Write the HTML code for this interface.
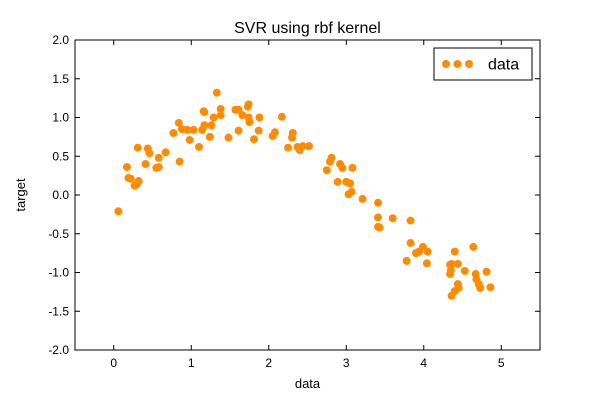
<!DOCTYPE html>
<html><head><meta charset="utf-8"><style>
body{margin:0;background:#fff;}
svg{font-family:"Liberation Sans","DejaVu Sans",sans-serif;}
</style></head><body>
<svg id="chart" width="600" height="400">
<rect width="600" height="400" fill="#fff"/>
<text x="307.5" y="33" font-size="16" text-anchor="middle">SVR using rbf kernel</text>
<g id="axes"></g>
<g id="points"></g>
<rect x="75" y="40" width="465" height="310" fill="none" stroke="#000" stroke-width="1"/>
<text x="307.5" y="388" font-size="13" text-anchor="middle">data</text>
<text x="25" y="195" font-size="13" text-anchor="middle" transform="rotate(-90 25 195)">target</text>
<g>
<rect x="434" y="48" width="98" height="32" fill="#fff" stroke="#000"/>
<circle cx="446" cy="64" r="4" fill="#ff8c00"/>
<circle cx="457.5" cy="64" r="4" fill="#ff8c00"/>
<circle cx="469" cy="64" r="4" fill="#ff8c00"/>
<text x="488" y="69.5" font-size="16">data</text>
</g>
</svg>
<script>
const xs=[0.06,0.17,0.19,0.22,0.27,0.30,0.32,0.31,0.41,0.44,0.46,0.55,0.58,0.58,0.67,0.77,0.84,0.85,0.88,0.95,0.98,1.03,1.10,1.14,1.16,1.17,1.17,1.24,1.26,1.29,1.33,1.38,1.38,1.48,1.57,1.61,1.61,1.66,1.73,1.74,1.74,1.75,1.81,1.87,1.88,2.05,2.08,2.17,2.25,2.30,2.31,2.37,2.40,2.44,2.52,2.75,2.79,2.81,2.89,2.92,2.95,3.00,3.03,3.07,3.05,3.08,3.21,3.41,3.43,3.41,3.41,3.60,3.83,3.83,3.90,3.94,3.99,4.05,3.78,4.04,4.40,4.64,4.34,4.36,4.44,4.34,4.35,4.53,4.67,4.81,4.68,4.71,4.73,4.86,4.44,4.45,4.40,4.36];
const ys=[-0.21,0.36,0.22,0.21,0.12,0.14,0.18,0.61,0.40,0.60,0.54,0.35,0.36,0.48,0.55,0.80,0.93,0.43,0.85,0.84,0.71,0.84,0.62,0.84,1.08,1.07,0.90,0.75,0.90,1.00,1.32,1.11,1.03,0.74,1.10,1.10,0.83,1.03,1.14,1.17,1.00,0.94,0.72,0.83,1.00,0.76,0.81,1.01,0.61,0.74,0.80,0.62,0.58,0.63,0.63,0.32,0.43,0.48,0.17,0.40,0.35,0.17,0.01,0.04,0.15,0.35,-0.05,-0.29,-0.42,-0.41,-0.10,-0.30,-0.33,-0.62,-0.75,-0.73,-0.67,-0.73,-0.85,-0.88,-0.73,-0.67,-0.90,-0.89,-0.89,-1.02,-0.97,-0.98,-1.02,-0.99,-1.09,-1.15,-1.20,-1.19,-1.15,-1.20,-1.24,-1.30];
const xTicks=[0,1,2,3,4,5];
const yTicks=[-2.0,-1.5,-1.0,-0.5,0.0,0.5,1.0,1.5,2.0];
const xMin=-0.5,xMax=5.5,yMin=-2,yMax=2;
const L=75,R=540,T=40,B=350;
function sx(v){return L+(v-xMin)/(xMax-xMin)*(R-L);}
function sy(v){return B-(v-yMin)/(yMax-yMin)*(B-T);}
const NS="http://www.w3.org/2000/svg";
const ax=document.getElementById('axes');
function mk(tag,attrs,parent){const e=document.createElementNS(NS,tag);for(const k in attrs)e.setAttribute(k,attrs[k]);parent.appendChild(e);return e;}
xTicks.forEach(t=>{
  const x=sx(t);
  const l1=mk('line',{x1:x,x2:x,y1:B,y2:B-5,stroke:'#000'},ax);
  
  
  const l2=mk('line',{x1:x,x2:x,y1:T,y2:T+5,stroke:'#000'},ax);
  
  
  const tx=mk('text',{x:x,y:B+17,'font-size':12,'text-anchor':'middle'},ax);
  tx.textContent=String(t);
  
  
});
yTicks.forEach(t=>{
  const y=sy(t);
  const l1=mk('line',{x1:L,x2:L+5,y1:y,y2:y,stroke:'#000'},ax);
  
  
  const l2=mk('line',{x1:R,x2:R-5,y1:y,y2:y,stroke:'#000'},ax);
  
  
  const tx=mk('text',{x:L-6,y:y+4,'font-size':12,'text-anchor':'end'},ax);
  tx.textContent=t.toFixed(1);
  
  
});
const pg=document.getElementById('points');
xs.forEach((v,i)=>{
  const c=mk('circle',{cx:sx(v),cy:sy(ys[i]),r:4,fill:'#ff8c00'},pg);
  
  
});
</script>
</body></html>
